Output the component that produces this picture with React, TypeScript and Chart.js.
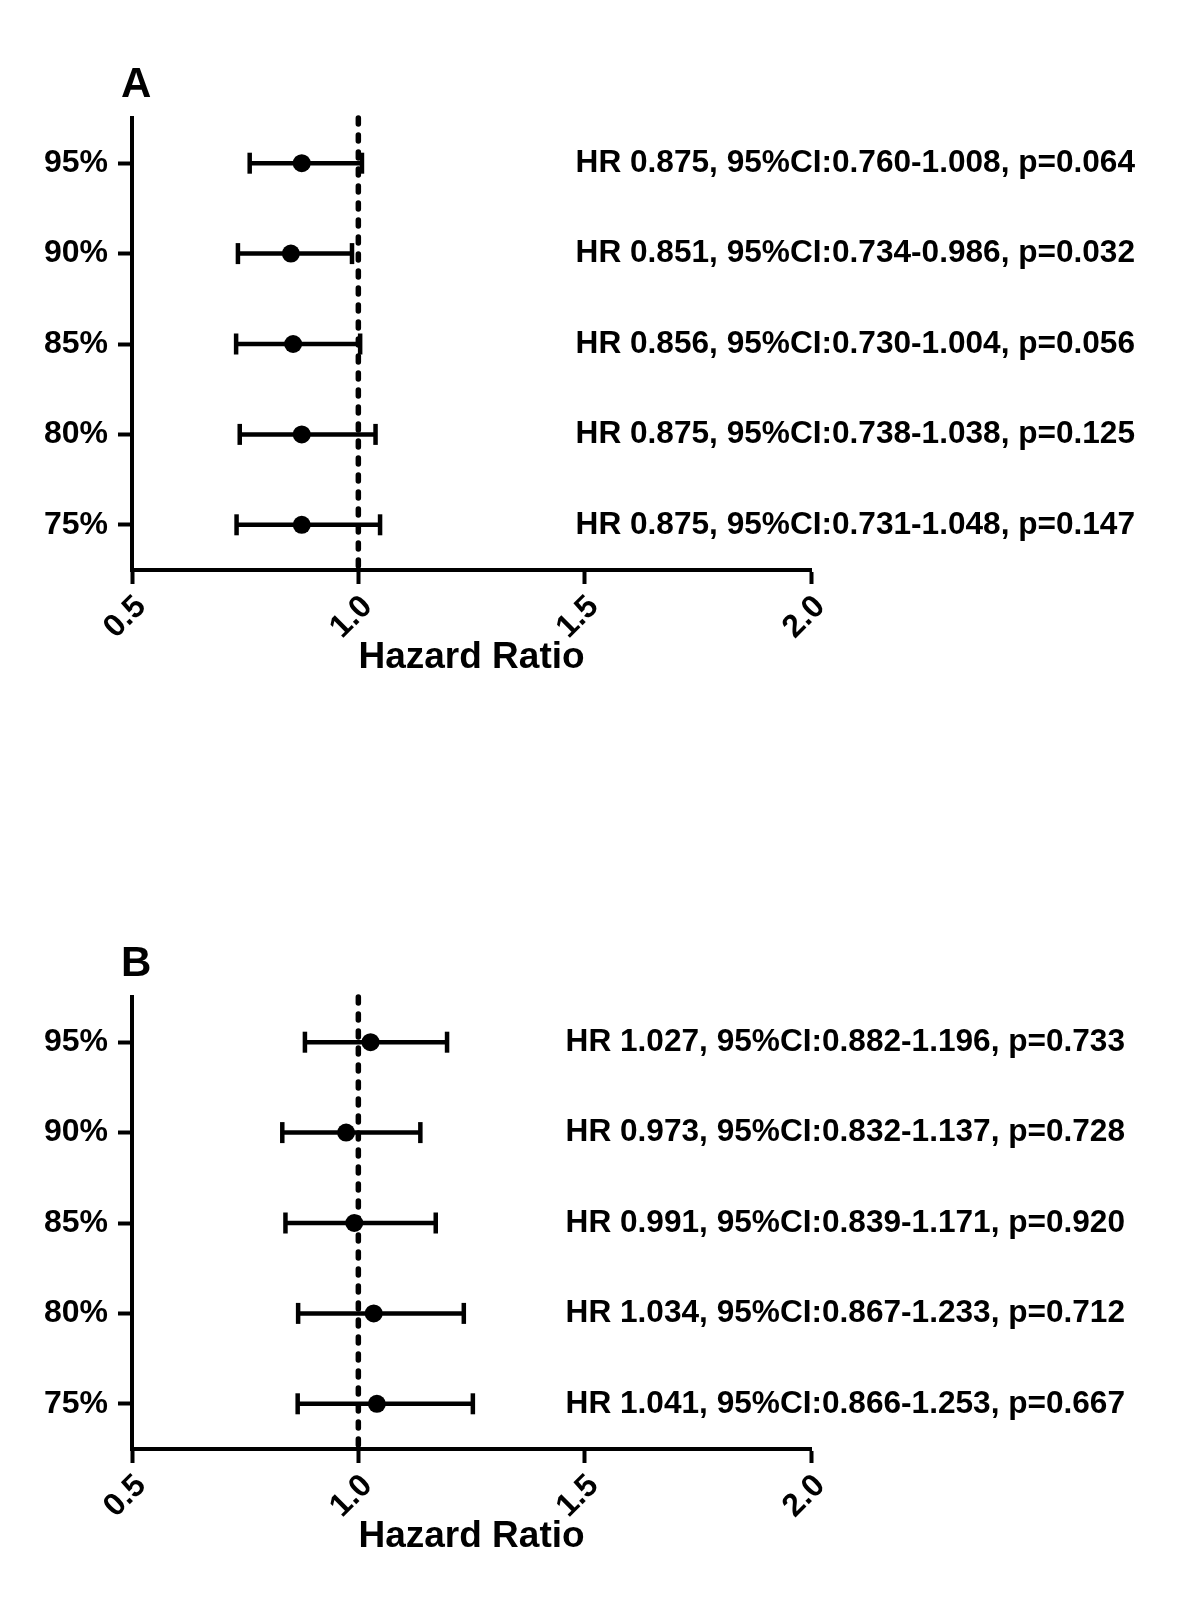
import React, { useEffect, useRef } from 'react';
import { Chart, registerables } from 'chart.js';

Chart.register(...registerables);

// ---- data ----
const rowLabels = ['95%', '90%', '85%', '80%', '75%'];
const xTicks = [0.5, 1.0, 1.5, 2.0];
const refLine = 1.0;

const hrA = [0.875, 0.851, 0.856, 0.875, 0.875];
const lowA = [0.760, 0.734, 0.730, 0.738, 0.731];
const highA = [1.008, 0.986, 1.004, 1.038, 1.048];
const pA = ['0.064', '0.032', '0.056', '0.125', '0.147'];

const hrB = [1.027, 0.973, 0.991, 1.034, 1.041];
const lowB = [0.882, 0.832, 0.839, 0.867, 0.866];
const highB = [1.196, 1.137, 1.171, 1.233, 1.253];
const pB = ['0.733', '0.728', '0.920', '0.712', '0.667'];

const FONT = "'Liberation Sans', Arial, Helvetica, sans-serif";

const makeTexts = (hr: number[], lo: number[], hi: number[], p: string[]) =>
  hr.map((h, i) => `HR ${h.toFixed(3)}, 95%CI:${lo[i].toFixed(3)}-${hi[i].toFixed(3)}, p=${p[i]}`);

const annotPlugin = {
  id: 'annot',
  afterDatasetsDraw(chart: any, _args: any, opts: any) {
    const { ctx } = chart;
    const y = chart.scales.y;
    ctx.save();
    ctx.fillStyle = '#000';
    ctx.font = `bold 31.6px ${FONT}`;
    ctx.textAlign = 'right';
    ctx.textBaseline = 'middle';
    (opts.texts as string[]).forEach((t, i) => {
      ctx.fillText(t, opts.right, y.getPixelForValue(i + 1));
    });
    ctx.font = `bold 42px ${FONT}`;
    ctx.textAlign = 'left';
    ctx.textBaseline = 'alphabetic';
    ctx.fillText(opts.letter, 121, 97);
    ctx.restore();
  },
};

type PanelProps = {
  top: number;
  hr: number[];
  low: number[];
  high: number[];
  p: string[];
  letter: string;
  textRight: number;
};

function ForestPanel({ top, hr, low, high, p, letter, textRight }: PanelProps) {
  const ref = useRef<HTMLCanvasElement>(null);
  useEffect(() => {
    if (!ref.current) return;
    const ys = rowLabels.map((_, i) => i + 1);
    const ciSets = ys.map((yv, i) => ({
      type: 'line',
      data: [
        { x: low[i], y: yv },
        { x: high[i], y: yv },
      ],
      borderColor: '#000',
      borderWidth: 4.5,
      pointStyle: 'line',
      pointRotation: 90,
      pointRadius: 10.5,
      pointBorderWidth: 4.5,
      pointBorderColor: '#000',
      pointBackgroundColor: '#000',
      order: 2,
      clip: false,
    }));
    const chart = new Chart(ref.current, {
      type: 'line',
      data: {
        datasets: [
          {
            data: ys.map((yv, i) => ({ x: hr[i], y: yv })),
            showLine: false,
            pointStyle: 'circle',
            pointRadius: 9,
            pointBackgroundColor: '#000',
            pointBorderColor: '#000',
            pointBorderWidth: 0,
            order: 1,
            clip: false,
          } as any,
          ...ciSets,
          {
            data: [
              { x: refLine, y: 0.5 },
              { x: refLine, y: 5.5 },
            ],
            borderColor: '#000',
            borderWidth: 5.5,
            borderDash: [6, 11],
            borderCapStyle: 'round',
            pointRadius: 0,
            order: 3,
            clip: false,
          } as any,
        ],
      },
      options: {
        responsive: false,
        animation: false,
        devicePixelRatio: 1,
        events: [],
        layout: { padding: { top: 118, right: 389, bottom: 0, left: 0 } },
        plugins: {
          legend: { display: false },
          tooltip: { enabled: false },
          annot: { texts: makeTexts(hr, low, high, p), right: textRight, letter },
        } as any,
        scales: {
          x: {
            type: 'linear',
            min: 0.5,
            max: 2.0,
            afterBuildTicks: (s: any) => {
              s.ticks = xTicks.map((v) => ({ value: v }));
            },
            afterFit: (s: any) => {
              s.height = 130;
            },
            ticks: {
              autoSkip: false,
              minRotation: 45,
              maxRotation: 45,
              padding: 4,
              labelOffset: 9,
              color: '#000',
              font: { family: FONT, size: 32, weight: 'bold' },
              callback: (v: any) => Number(v).toFixed(1),
            },
            grid: {
              drawOnChartArea: false,
              drawTicks: true,
              tickLength: 14,
              tickWidth: 4,
              tickColor: '#000',
            },
            border: { display: true, color: '#000', width: 4 },
            title: {
              display: true,
              text: 'Hazard Ratio',
              color: '#000',
              font: { family: FONT, size: 37, weight: 'bold' },
              padding: { top: 0, bottom: 20 },
            },
          },
          y: {
            type: 'linear',
            min: 0.5,
            max: 5.5,
            reverse: true,
            afterBuildTicks: (s: any) => {
              s.ticks = ys.map((v) => ({ value: v }));
            },
            afterFit: (s: any) => {
              s.width = 132;
            },
            ticks: {
              autoSkip: false,
              padding: 10,
              color: '#000',
              font: { family: FONT, size: 32, weight: 'bold' },
              callback: (v: any) => rowLabels[Math.round(Number(v)) - 1] ?? '',
            },
            grid: {
              drawOnChartArea: false,
              drawTicks: true,
              tickLength: 14,
              tickWidth: 4,
              tickColor: '#000',
            },
            border: { display: true, color: '#000', width: 4 },
          },
        },
      } as any,
      plugins: [annotPlugin as any],
    });
    return () => chart.destroy();
  }, []);
  return (
    <canvas
      ref={ref}
      width={1200}
      height={700}
      style={{ position: 'absolute', left: 0, top, width: 1200, height: 700 }}
    />
  );
}

export default function App() {
  return (
    <div style={{ position: 'absolute', left: 0, top: 0, width: 1200, height: 1611, background: '#fff' }}>
      <ForestPanel top={0} hr={hrA} low={lowA} high={highA} p={pA} letter="A" textRight={1135} />
      <ForestPanel top={879} hr={hrB} low={lowB} high={highB} p={pB} letter="B" textRight={1125} />
    </div>
  );
}
